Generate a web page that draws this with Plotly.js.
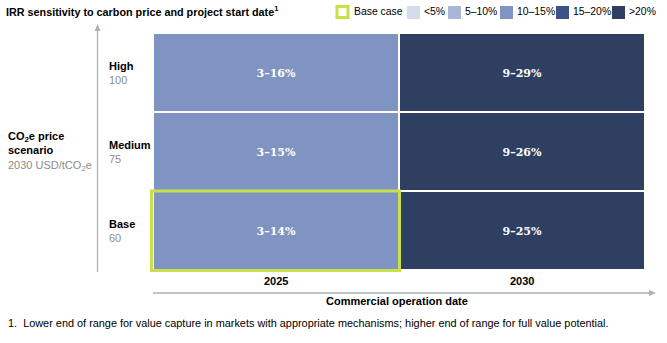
<!DOCTYPE html>
<html><head><meta charset="utf-8">
<script src="https://cdn.plot.ly/plotly-3.0.1.min.js"></script>
<style>body{margin:0;background:#fff}#c{width:667px;height:343px}</style>
</head><body><div id="c"></div>
<script>
// ---- data ----
const years = ['2025', '2030'];
const scenarios = ['Base', 'Medium', 'High'];
const scenarioPrices = ['60', '75', '100'];
// IRR ranges (%) per scenario (rows: Base, Medium, High), per year
const irrLow2025 = [3, 3, 3];
const irrHigh2025 = [14, 15, 16];
const irrLow2030 = [9, 9, 9];
const irrHigh2030 = [25, 26, 29];
// colour band index per cell (0:<5%,1:5–10%,2:10–15%,3:15–20%,4:>20%)
const band2025 = [2, 2, 2];
const band2030 = [4, 4, 4];
const bandLabels = ['<5%', '5–10%', '10–15%', '15–20%', '>20%'];
const bandColors = ['#D4DBEB', '#A8B6D8', '#7F94C2', '#3C5289', '#2F3F62'];
const baseCaseLabel = 'Base case';
const baseCaseYear = '2025';
const baseCaseScenario = 'Base';
const baseColor = '#C8E04A';

// ---- build ----
const W = 667, H = 343, L = 153, R = 645, T = 33, B = 270;
const PW = R - L, PH = B - T;
const px = x => (x - L) / PW;
const py = y => (B - y) / PH;
const font = 'Arial, "Liberation Sans", sans-serif';
const grey = '#a9b4b4';

const z = scenarios.map((s, i) => [band2025[i], band2030[i]]);
const text = scenarios.map((s, i) => [irrLow2025[i] + '–' + irrHigh2025[i] + '%', irrLow2030[i] + '–' + irrHigh2030[i] + '%']);
const n = bandColors.length;
const colorscale = [];
bandColors.forEach((c, i) => { colorscale.push([i / n, c]); colorscale.push([(i + 1) / n, c]); });

const trace = {
  type: 'heatmap', x: years, y: scenarios, z: z, text: text,
  texttemplate: '<b>%{text}</b>', textfont: {family: 'Georgia, "DejaVu Serif", "Liberation Serif", serif', size: 11, color: '#ffffff'},
  colorscale: colorscale, zmin: -0.5, zmax: n - 0.5, showscale: false,
  xgap: 2, ygap: 2, hoverinfo: 'skip'
};

const ann = [];
const shapes = [];
// y category labels
scenarios.forEach((s, i) => {
  ann.push({xref: 'paper', yref: 'paper', x: px(107), y: (i + 0.5) / scenarios.length, xanchor: 'left', yanchor: 'middle', align: 'left',
    text: '<b>' + s + '</b><br><span style="color:#8c8c8c">' + scenarioPrices[i] + '</span>',
    showarrow: false, font: {family: font, size: 11, color: '#000'}});
});
// y axis title
ann.push({xref: 'paper', yref: 'paper', x: px(6), y: py(151), xanchor: 'left', yanchor: 'middle', align: 'left',
  text: '<b>CO<sub>2</sub>e price<br>scenario</b><br><span style="color:#8c8c8c">2030 USD/tCO<sub>2</sub>e</span>',
  showarrow: false, font: {family: font, size: 11, color: '#000'}});
// x labels
years.forEach((yr, j) => {
  ann.push({xref: 'paper', yref: 'paper', x: (j + 0.5) / years.length, y: py(281), xanchor: 'center', yanchor: 'middle',
    text: '<b>' + yr + '</b>', showarrow: false, font: {family: font, size: 11, color: '#000'}});
});
ann.push({xref: 'paper', yref: 'paper', x: px(397), y: py(301), xanchor: 'center', yanchor: 'middle',
  text: '<b>Commercial operation date</b>', showarrow: false, font: {family: font, size: 11, color: '#000'}});
// footnote
ann.push({xref: 'paper', yref: 'paper', x: px(6), y: py(323), xanchor: 'left', yanchor: 'middle',
  text: '1.  Lower end of range for value capture in markets with appropriate mechanisms; higher end of range for full value potential.',
  showarrow: false, font: {family: font, size: 10.9, color: '#000'}});
// axis arrows (lines + triangular heads)
shapes.push({type: 'line', xref: 'paper', yref: 'paper', x0: px(97.5), x1: px(97.5), y0: py(272), y1: py(30),
  line: {color: grey, width: 1.3}});
shapes.push({type: 'path', xref: 'paper', yref: 'paper',
  path: `M ${px(94.5)} ${py(31)} L ${px(97.5)} ${py(24)} L ${px(100.5)} ${py(31)} Z`, fillcolor: grey, line: {width: 0}});
shapes.push({type: 'line', xref: 'paper', yref: 'paper', x0: px(153), x1: px(650), y0: py(293), y1: py(293),
  line: {color: grey, width: 1.3}});
shapes.push({type: 'path', xref: 'paper', yref: 'paper',
  path: `M ${px(649)} ${py(290)} L ${px(656)} ${py(293)} L ${px(649)} ${py(296)} Z`, fillcolor: grey, line: {width: 0}});

// legend
const legX = [407, 448, 500, 556, 612];
const legFont = {family: font, size: 10.4, color: '#000'};
shapes.push({type: 'rect', xref: 'paper', yref: 'paper', x0: px(337), x1: px(348), y0: py(17.5), y1: py(6.5),
  line: {color: baseColor, width: 3}, fillcolor: '#fff'});
ann.push({xref: 'paper', yref: 'paper', x: px(352), y: py(12), xanchor: 'left', yanchor: 'middle',
  text: baseCaseLabel, showarrow: false, font: legFont});
bandLabels.forEach((lb, i) => {
  shapes.push({type: 'rect', xref: 'paper', yref: 'paper', x0: px(legX[i]), x1: px(legX[i] + 13), y0: py(19), y1: py(6),
    line: {width: 0}, fillcolor: bandColors[i]});
  ann.push({xref: 'paper', yref: 'paper', x: px(legX[i] + 15), y: py(12), xanchor: 'left', yanchor: 'middle',
    text: lb, showarrow: false, font: legFont});
});
// base case highlight (paper coords derived from the cell's category position, so it is not clipped)
const bxi = years.indexOf(baseCaseYear), byi = scenarios.indexOf(baseCaseScenario);
shapes.push({type: 'rect', xref: 'paper', yref: 'paper',
  x0: bxi / years.length - 1.5 / PW, x1: (bxi + 1) / years.length + 0.5 / PW,
  y0: byi / scenarios.length - 0.5 / PH, y1: (byi + 1) / scenarios.length,
  line: {color: baseColor, width: 3}, fillcolor: 'rgba(0,0,0,0)', layer: 'above'});

const layout = {
  width: W, height: H, margin: {l: L, r: W - R, t: T, b: H - B},
  paper_bgcolor: '#fff', plot_bgcolor: '#fff',
  title: {text: '<b>IRR sensitivity to carbon price and project start date<sup>1</sup></b>', x: 6 / W, xanchor: 'left', xref: 'container',
    y: 1 - 12 / H, yanchor: 'middle', yref: 'container', font: {family: font, size: 10.8, color: '#000'}},
  xaxis: {visible: false, type: 'category', range: [-0.5, 1.5], fixedrange: true},
  yaxis: {visible: false, type: 'category', range: [-0.5, 2.5], fixedrange: true},
  annotations: ann, shapes: shapes, showlegend: false
};
Plotly.newPlot('c', [trace], layout, {displayModeBar: false, staticPlot: true});
</script></body></html>
